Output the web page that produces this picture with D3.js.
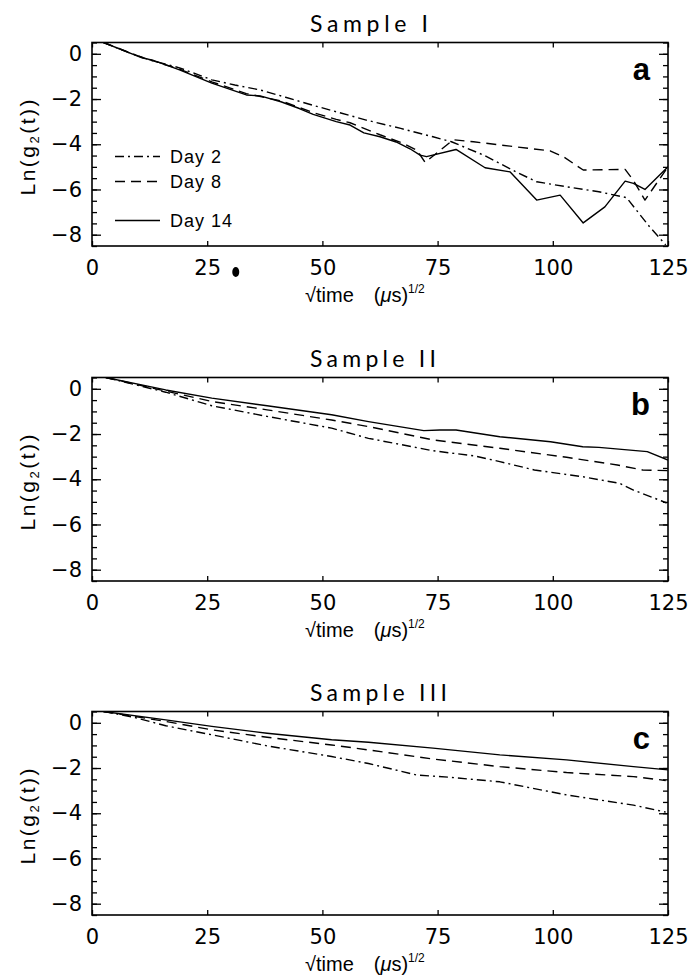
<!DOCTYPE html>
<html lang="en">
<head>
    <meta charset="UTF-8">
    <title>Ln(g2(t)) vs sqrt(time)</title>
    <script src="https://cdnjs.cloudflare.com/ajax/libs/d3/7.8.5/d3.min.js"></script>
    <style>
        body {
            margin: 0;
            background-color: white;
        }

        svg text {
            fill: black;
        }

        .axis path.domain {
            display: none;
        }

        .axis line {
            stroke: black;
            stroke-width: 1.3;
        }

        .axis text {
            font-family: "DejaVu Sans", sans-serif;
            font-size: 21px;
        }

        .frame {
            fill: none;
            stroke: black;
            stroke-width: 1.6;
        }

        .series {
            fill: none;
            stroke: black;
            stroke-width: 1.4;
            stroke-linejoin: round;
        }

        .title {
            font-family: Lato, "Liberation Sans", sans-serif;
            font-weight: 400;
            font-size: 23px;
        }

        .label {
            font-family: "Liberation Sans", Arial, sans-serif;
            font-size: 20px;
        }

        .legend {
            font-family: "Liberation Sans", Arial, sans-serif;
            font-size: 18px;
            letter-spacing: 1px;
        }

        .letter {
            font-family: "Liberation Sans", Arial, sans-serif;
            font-weight: bold;
            font-size: 31px;
        }
    </style>
</head>
<body>
<svg id="chart" width="690" height="977"></svg>
<script>
    // tick labels / categories
    const X_TICKS = [0, 25, 50, 75, 100, 125];
    const Y_TICKS = [0, -2, -4, -6, -8];
    const TITLES = ['Sample I', 'Sample II', 'Sample III'];
    const LETTERS = ['a', 'b', 'c'];
    const DAYS = ['Day 2', 'Day 8', 'Day 14'];

    // Sample I
    const s1Day2X = [2.5, 8, 13, 19, 26, 31, 36.5, 42, 48, 54, 59.5, 67, 74, 78, 85, 92, 96.5, 103, 110, 116, 121, 124.5];
    const s1Day2Y = [0.5, 0.05, -0.3, -0.62, -1.15, -1.38, -1.6, -1.92, -2.28, -2.62, -2.93, -3.3, -3.67, -3.89, -4.48, -5.22, -5.66, -5.88, -6.1, -6.36, -7.65, -8.45];
    const s1Day8X = [2.5, 11, 19, 26, 33.5, 41, 48, 53, 56, 62.5, 67.5, 70.5, 72.3, 78.4, 82.8, 91.4, 99.4, 102.3, 106.6, 115.7, 117.5, 120, 125];
    const s1Day8Y = [0.5, -0.17, -0.68, -1.24, -1.76, -2.08, -2.6, -2.9, -3.05, -3.58, -3.96, -4.26, -4.8, -3.8, -3.89, -4.1, -4.29, -4.55, -5.14, -5.11, -5.6, -6.47, -5.0];
    const s1Day14X = [2.5, 11, 13, 19, 26, 33.5, 36.5, 41, 45, 48, 53, 56, 59, 62.5, 66, 69, 71.2, 72.6, 79, 85.3, 90.7, 96.5, 101.6, 106.6, 111.3, 115.7, 117.5, 120, 125];
    const s1Day14Y = [0.5, -0.19, -0.27, -0.71, -1.3, -1.82, -1.86, -2.12, -2.42, -2.68, -3.0, -3.15, -3.5, -3.67, -3.9, -4.2, -4.48, -4.55, -4.23, -5.04, -5.22, -6.47, -6.25, -7.48, -6.77, -5.63, -5.73, -6.0, -5.0];

    // Sample II
    const s2Day2X = [3, 16, 26, 38, 52, 60, 74, 83, 88.5, 96, 106.5, 114.5, 117.5, 123.5, 124.7];
    const s2Day2Y = [0.5, -0.15, -0.75, -1.22, -1.74, -2.19, -2.74, -2.97, -3.22, -3.59, -3.89, -4.18, -4.48, -4.95, -5.05];
    const s2Day8X = [3, 16, 26, 38, 52, 60, 74, 88.5, 103, 114, 119.5, 125];
    const s2Day8Y = [0.5, -0.1, -0.56, -0.93, -1.38, -1.67, -2.26, -2.63, -3.03, -3.37, -3.59, -3.62];
    const s2Day14X = [3, 16, 26, 38, 52, 60, 72, 75.5, 79, 88.5, 99.5, 106.5, 110, 120.5, 125];
    const s2Day14Y = [0.5, -0.05, -0.41, -0.75, -1.15, -1.45, -1.85, -1.82, -1.82, -2.12, -2.34, -2.56, -2.59, -2.78, -3.15];

    // Sample III
    const s3Day2X = [2.5, 9, 16, 26, 38, 52, 60, 70.5, 77.7, 88.5, 103, 117.5, 124.5];
    const s3Day2Y = [0.5, 0.25, -0.13, -0.53, -1.02, -1.49, -1.8, -2.31, -2.41, -2.61, -3.19, -3.64, -3.95];
    const s3Day8X = [2.5, 16, 26, 38, 52, 60, 74, 88.5, 103, 117.5, 124.5];
    const s3Day8Y = [0.5, 0.06, -0.31, -0.64, -0.98, -1.2, -1.6, -1.94, -2.2, -2.38, -2.55];
    const s3Day14X = [2.5, 16, 26, 38, 52, 60, 74, 88.5, 103, 117.5, 125];
    const s3Day14Y = [0.5, 0.13, -0.16, -0.46, -0.75, -0.86, -1.12, -1.42, -1.64, -1.94, -2.08];

    const DASHES = ['9,4,2,4', '10,6', null];

    const panels = [
        [[s1Day2X, s1Day2Y], [s1Day8X, s1Day8Y], [s1Day14X, s1Day14Y]],
        [[s2Day2X, s2Day2Y], [s2Day8X, s2Day8Y], [s2Day14X, s2Day14Y]],
        [[s3Day2X, s3Day2Y], [s3Day8X, s3Day8Y], [s3Day14X, s3Day14Y]]
    ];

    const left = 92;
    const right = 668;
    const tops = [42.5, 377.5, 711.5];
    const height = 203.5;

    const svg = d3.select('#chart');

    const x = d3.scaleLinear().domain([0, 125]).range([left, right]);

    panels.forEach((series, p) => {
        const top = tops[p];
        const y = d3.scaleLinear().domain([-8.5, 0.5]).range([top + height, top]);
        const g = svg.append('g');

        g.append('clipPath').attr('id', 'clip' + p)
            .append('rect')
            .attr('x', left).attr('y', top)
            .attr('width', right - left).attr('height', height);

        const minor = d3.range(-8.5, 0.51, 0.5);

        // axes, ticks pointing inwards
        g.append('g').attr('class', 'axis')
            .attr('transform', `translate(0,${top + height})`)
            .call(d3.axisBottom(x).tickValues(X_TICKS).tickSizeInner(-5).tickSizeOuter(0).tickPadding(14));
        g.append('g').attr('class', 'axis')
            .attr('transform', `translate(0,${top})`)
            .call(d3.axisTop(x).tickValues(X_TICKS).tickSizeInner(-5).tickSizeOuter(0).tickFormat(''));
        g.append('g').attr('class', 'axis')
            .attr('transform', `translate(${left},0)`)
            .call(d3.axisLeft(y).tickValues(Y_TICKS).tickSizeInner(-9).tickSizeOuter(0).tickPadding(10));
        g.append('g').attr('class', 'axis')
            .attr('transform', `translate(${left},0)`)
            .call(d3.axisLeft(y).tickValues(minor).tickSizeInner(-5).tickSizeOuter(0).tickFormat(''));
        g.append('g').attr('class', 'axis')
            .attr('transform', `translate(${right},0)`)
            .call(d3.axisRight(y).tickValues(Y_TICKS).tickSizeInner(-9).tickSizeOuter(0).tickFormat(''));
        g.append('g').attr('class', 'axis')
            .attr('transform', `translate(${right},0)`)
            .call(d3.axisRight(y).tickValues(minor).tickSizeInner(-5).tickSizeOuter(0).tickFormat(''));

        g.append('rect').attr('class', 'frame')
            .attr('x', left).attr('y', top)
            .attr('width', right - left).attr('height', height);

        const line = d3.line().x(d => x(d[0])).y(d => y(d[1]));

        series.forEach(([xs, ys], i) => {
            g.append('path')
                .attr('class', 'series')
                .attr('clip-path', `url(#clip${p})`)
                .attr('stroke-dasharray', DASHES[i])
                .attr('d', line(xs.map((v, k) => [v, ys[k]])));
        });

        // title
        g.append('text').attr('class', 'title')
            .attr('x', 310).attr('y', top - 11)
            .attr('textLength', [118, 126, 137][p])
            .attr('lengthAdjust', 'spacing')
            .text(TITLES[p]);

        // panel letter
        g.append('text').attr('class', 'letter')
            .attr('x', right - 18).attr('y', top + 37)
            .attr('text-anchor', 'end')
            .text(LETTERS[p]);

        // y label
        const yl = g.append('text').attr('class', 'label')
            .attr('transform', `translate(35,${top + height / 2 + 2}) rotate(-90)`)
            .attr('text-anchor', 'middle')
            .style('font-size', '21px')
            .style('letter-spacing', '2.5px');
        yl.append('tspan').text('Ln(g');
        yl.append('tspan').attr('font-size', 13).attr('dy', 4).text('2');
        yl.append('tspan').attr('dy', -4).text('(t))');

        // x label
        const xl = g.append('text').attr('class', 'label')
            .attr('x', 305).attr('y', top + height + 56);
        xl.append('tspan').text('\u221Atime');
        xl.append('tspan').attr('dx', 20).text('(');
        xl.append('tspan').style('font-style', 'italic').text('\u03BC');
        xl.append('tspan').text('s)');
        xl.append('tspan').attr('font-size', 12).attr('dy', -9).text('1/2');

        if (p === 0) {
            const legendY = [114, 139, 178];
            DAYS.forEach((name, i) => {
                g.append('line')
                    .attr('class', 'series')
                    .attr('x1', 115).attr('x2', 160)
                    .attr('y1', top + legendY[i]).attr('y2', top + legendY[i])
                    .attr('stroke-dasharray', DASHES[i]);
                g.append('text').attr('class', 'legend')
                    .attr('x', 170).attr('y', top + legendY[i] + 6.5)
                    .text(name);
            });

            // scanning speck under the axis
            g.append('ellipse')
                .attr('cx', x(31.2)).attr('cy', top + height + 26)
                .attr('rx', 3.5).attr('ry', 5);
        }
    });
</script>
</body>
</html>
